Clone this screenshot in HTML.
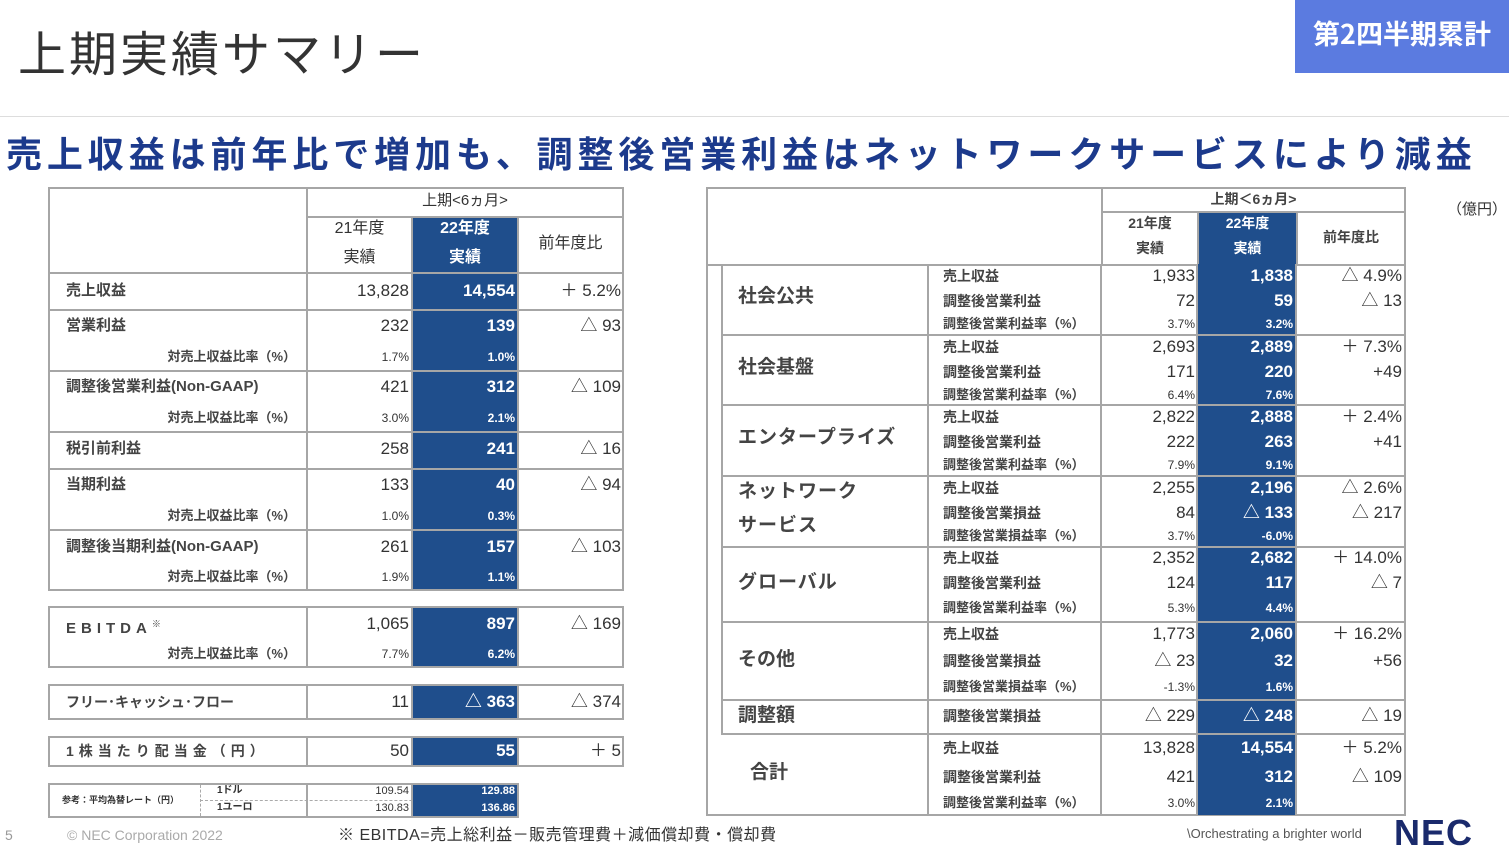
<!DOCTYPE html>
<html><head><meta charset="utf-8">
<style>
body{margin:0;width:1509px;height:855px;background:#fff;position:relative;overflow:hidden;font-family:"Liberation Sans","Noto Sans CJK JP",sans-serif;color:#333}
div{position:absolute;box-sizing:border-box}
.b{border:2px solid #a6a6a6}
.bl{background:#1f4e8c;border:2px solid #a6a6a6}
.t{white-space:nowrap;line-height:20px;height:20px}
.r{text-align:right}
.c{text-align:center}
.w{color:#fff;font-weight:bold}
.n{font-size:17px}
.s{font-size:12px}
.l{font-size:15px;font-weight:bold;color:#444}
.g{font-size:19px;font-weight:bold;color:#444}
.i{font-size:14px;font-weight:bold;color:#444}
</style></head><body>
<div class="t" style="left:18px;top:28px;height:56px;line-height:56px;font-size:48px;color:#333;letter-spacing:3px">上期実績サマリー</div>
<div style="left:1295px;top:0;width:214px;height:73px;background:#5b7be0;color:#fff;font-size:27px;font-weight:bold;line-height:66px;text-align:center;font-family:'Noto Sans CJK JP',sans-serif">第2四半期累計</div>
<div style="left:0;top:116px;width:1509px;height:1px;background:#ddd"></div>
<div class="t" style="left:6px;top:130px;height:44px;line-height:44px;font-size:36px;font-weight:bold;color:#1c3a8c;letter-spacing:4.9px;font-family:'Noto Sans CJK JP',sans-serif">売上収益は前年比で増加も、調整後営業利益はネットワークサービスにより減益</div>
<div class="t" style="left:1447px;top:200px;font-size:15px;color:#333">（億円）</div>

<!-- LEFT TABLE -->
<div class="b" style="left:48px;top:187px;width:260px;height:87px"></div>
<div class="b" style="left:306px;top:187px;width:318px;height:31px"></div>
<div class="b" style="left:306px;top:216px;width:107px;height:58px"></div>
<div class="bl" style="left:411px;top:216px;width:108px;height:58px"></div>
<div class="b" style="left:517px;top:216px;width:107px;height:58px"></div>
<div class="t c" style="left:306px;top:191px;width:318px;font-size:15px">上期&lt;6ヵ月&gt;</div>
<div class="t c" style="left:306px;top:219px;width:107px;font-size:16px">21年度</div>
<div class="t c" style="left:306px;top:248px;width:107px;font-size:16px">実績</div>
<div class="t c w" style="left:411px;top:219px;width:108px;font-size:16px">22年度</div>
<div class="t c w" style="left:411px;top:248px;width:108px;font-size:16px">実績</div>
<div class="t c" style="left:517px;top:234px;width:107px;font-size:16px">前年度比</div>

<!-- rows -->
<div class="b" style="left:48px;top:272px;width:260px;height:39px"></div><div class="b" style="left:306px;top:272px;width:107px;height:39px"></div><div class="bl" style="left:411px;top:272px;width:108px;height:39px"></div><div class="b" style="left:517px;top:272px;width:107px;height:39px"></div>
<div class="b" style="left:48px;top:309px;width:260px;height:63px"></div><div class="b" style="left:306px;top:309px;width:107px;height:63px"></div><div class="bl" style="left:411px;top:309px;width:108px;height:63px"></div><div class="b" style="left:517px;top:309px;width:107px;height:63px"></div>
<div class="b" style="left:48px;top:370px;width:260px;height:63px"></div><div class="b" style="left:306px;top:370px;width:107px;height:63px"></div><div class="bl" style="left:411px;top:370px;width:108px;height:63px"></div><div class="b" style="left:517px;top:370px;width:107px;height:63px"></div>
<div class="b" style="left:48px;top:431px;width:260px;height:39px"></div><div class="b" style="left:306px;top:431px;width:107px;height:39px"></div><div class="bl" style="left:411px;top:431px;width:108px;height:39px"></div><div class="b" style="left:517px;top:431px;width:107px;height:39px"></div>
<div class="b" style="left:48px;top:468px;width:260px;height:63px"></div><div class="b" style="left:306px;top:468px;width:107px;height:63px"></div><div class="bl" style="left:411px;top:468px;width:108px;height:63px"></div><div class="b" style="left:517px;top:468px;width:107px;height:63px"></div>
<div class="b" style="left:48px;top:529px;width:260px;height:62px"></div><div class="b" style="left:306px;top:529px;width:107px;height:62px"></div><div class="bl" style="left:411px;top:529px;width:108px;height:62px"></div><div class="b" style="left:517px;top:529px;width:107px;height:62px"></div>
<div class="b" style="left:48px;top:606px;width:260px;height:62px"></div><div class="b" style="left:306px;top:606px;width:107px;height:62px"></div><div class="bl" style="left:411px;top:606px;width:108px;height:62px"></div><div class="b" style="left:517px;top:606px;width:107px;height:62px"></div>
<div class="b" style="left:48px;top:684px;width:260px;height:36px"></div><div class="b" style="left:306px;top:684px;width:107px;height:36px"></div><div class="bl" style="left:411px;top:684px;width:108px;height:36px"></div><div class="b" style="left:517px;top:684px;width:107px;height:36px"></div>
<div class="b" style="left:48px;top:736px;width:260px;height:31px"></div><div class="b" style="left:306px;top:736px;width:107px;height:31px"></div><div class="bl" style="left:411px;top:736px;width:108px;height:31px"></div><div class="b" style="left:517px;top:736px;width:107px;height:31px"></div>
<!-- rate -->
<div class="b" style="left:48px;top:783px;width:260px;height:35px"></div><div style="left:200px;top:785px;width:0;height:31px;border-left:1px dashed #aaa"></div><div style="left:200px;top:800px;width:317px;height:0;border-top:1px dashed #aaa"></div>
<div class="b" style="left:306px;top:783px;width:107px;height:35px"></div><div class="bl" style="left:411px;top:783px;width:108px;height:35px"></div>
<div class="t" style="left:62px;top:790px;font-size:9px;font-weight:bold">参考：平均為替レート（円）</div>
<div class="t" style="left:217px;top:781px;font-size:10px;font-weight:bold">1ドル</div>
<div class="t" style="left:217px;top:798px;font-size:10px;font-weight:bold">1ユーロ</div>
<div class="t r" style="left:306px;top:781px;width:103px;font-size:11px">109.54</div>
<div class="t r" style="left:306px;top:798px;width:103px;font-size:11px">130.83</div>
<div class="t r w" style="left:411px;top:781px;width:104px;font-size:11px">129.88</div>
<div class="t r w" style="left:411px;top:798px;width:104px;font-size:11px">136.86</div>

<!-- left texts -->
<div class="t l" style="left:66px;top:281px">売上収益</div>
<div class="t l" style="left:66px;top:316px">営業利益</div>
<div class="t l" style="left:66px;top:377px">調整後営業利益(Non-GAAP)</div>
<div class="t l" style="left:66px;top:439px">税引前利益</div>
<div class="t l" style="left:66px;top:475px">当期利益</div>
<div class="t l" style="left:66px;top:537px">調整後当期利益(Non-GAAP)</div>
<div class="t l" style="left:66px;top:614px;letter-spacing:5px">EBITDA<sup style="font-size:9px">※</sup></div>
<div class="t l" style="left:66px;top:692px;font-size:14px">フリー･キャッシュ･フロー</div>
<div class="t l" style="left:66px;top:741px;font-size:14px;letter-spacing:5px">1株当たり配当金（円）</div>
<div class="t r" style="left:66px;top:347px;width:230px;font-size:13px;font-weight:bold;color:#444">対売上収益比率（%）</div>
<div class="t r" style="left:66px;top:408px;width:230px;font-size:13px;font-weight:bold;color:#444">対売上収益比率（%）</div>
<div class="t r" style="left:66px;top:506px;width:230px;font-size:13px;font-weight:bold;color:#444">対売上収益比率（%）</div>
<div class="t r" style="left:66px;top:567px;width:230px;font-size:13px;font-weight:bold;color:#444">対売上収益比率（%）</div>
<div class="t r" style="left:66px;top:644px;width:230px;font-size:13px;font-weight:bold;color:#444">対売上収益比率（%）</div>

<!-- c1 -->
<div class="t r n" style="left:306px;top:281px;width:103px">13,828</div>
<div class="t r n" style="left:306px;top:316px;width:103px">232</div>
<div class="t r s" style="left:306px;top:347px;width:103px">1.7%</div>
<div class="t r n" style="left:306px;top:377px;width:103px">421</div>
<div class="t r s" style="left:306px;top:408px;width:103px">3.0%</div>
<div class="t r n" style="left:306px;top:439px;width:103px">258</div>
<div class="t r n" style="left:306px;top:475px;width:103px">133</div>
<div class="t r s" style="left:306px;top:506px;width:103px">1.0%</div>
<div class="t r n" style="left:306px;top:537px;width:103px">261</div>
<div class="t r s" style="left:306px;top:567px;width:103px">1.9%</div>
<div class="t r n" style="left:306px;top:614px;width:103px">1,065</div>
<div class="t r s" style="left:306px;top:644px;width:103px">7.7%</div>
<div class="t r n" style="left:306px;top:692px;width:103px">11</div>
<div class="t r n" style="left:306px;top:741px;width:103px">50</div>
<!-- c2 -->
<div class="t r n w" style="left:411px;top:281px;width:104px">14,554</div>
<div class="t r n w" style="left:411px;top:316px;width:104px">139</div>
<div class="t r s w" style="left:411px;top:347px;width:104px">1.0%</div>
<div class="t r n w" style="left:411px;top:377px;width:104px">312</div>
<div class="t r s w" style="left:411px;top:408px;width:104px">2.1%</div>
<div class="t r n w" style="left:411px;top:439px;width:104px">241</div>
<div class="t r n w" style="left:411px;top:475px;width:104px">40</div>
<div class="t r s w" style="left:411px;top:506px;width:104px">0.3%</div>
<div class="t r n w" style="left:411px;top:537px;width:104px">157</div>
<div class="t r s w" style="left:411px;top:567px;width:104px">1.1%</div>
<div class="t r n w" style="left:411px;top:614px;width:104px">897</div>
<div class="t r s w" style="left:411px;top:644px;width:104px">6.2%</div>
<div class="t r n w" style="left:411px;top:692px;width:104px">△ 363</div>
<div class="t r n w" style="left:411px;top:741px;width:104px">55</div>
<!-- c3 -->
<div class="t r n" style="left:517px;top:281px;width:104px">＋ 5.2%</div>
<div class="t r n" style="left:517px;top:316px;width:104px">△ 93</div>
<div class="t r n" style="left:517px;top:377px;width:104px">△ 109</div>
<div class="t r n" style="left:517px;top:439px;width:104px">△ 16</div>
<div class="t r n" style="left:517px;top:475px;width:104px">△ 94</div>
<div class="t r n" style="left:517px;top:537px;width:104px">△ 103</div>
<div class="t r n" style="left:517px;top:614px;width:104px">△ 169</div>
<div class="t r n" style="left:517px;top:692px;width:104px">△ 374</div>
<div class="t r n" style="left:517px;top:741px;width:104px">＋ 5</div>

<!-- RIGHT TABLE -->
<div class="b" style="left:706px;top:187px;width:700px;height:629px"></div>
<div class="b" style="left:706px;top:187px;width:397px;height:79px"></div>
<div class="b" style="left:1101px;top:187px;width:305px;height:26px"></div>
<div class="b" style="left:1101px;top:211px;width:98px;height:55px"></div>
<div class="bl" style="left:1197px;top:211px;width:101px;height:55px"></div>
<div class="b" style="left:1296px;top:211px;width:110px;height:55px"></div>
<div class="t c" style="left:1101px;top:189px;width:305px;font-size:14px;font-weight:bold;color:#444">上期＜6ヵ月&gt;</div>
<div class="t c" style="left:1101px;top:213px;width:98px;font-size:14px;font-weight:bold;color:#444">21年度</div>
<div class="t c" style="left:1101px;top:238px;width:98px;font-size:14px;font-weight:bold;color:#444">実績</div>
<div class="t c w" style="left:1197px;top:213px;width:101px;font-size:14px">22年度</div>
<div class="t c w" style="left:1197px;top:238px;width:101px;font-size:14px">実績</div>
<div class="t c" style="left:1296px;top:227px;width:110px;font-size:14px;font-weight:bold;color:#444">前年度比</div>
<div style="left:1198px;top:264px;width:99px;height:551px;background:#1f4e8c"></div>
<div style="left:721px;top:264px;width:2px;height:470px;background:#a6a6a6"></div>
<div style="left:927px;top:264px;width:2px;height:551px;background:#a6a6a6"></div>
<div style="left:1100px;top:264px;width:2px;height:551px;background:#a6a6a6"></div>
<div style="left:1196px;top:264px;width:2px;height:551px;background:#a6a6a6"></div>
<div style="left:1295px;top:264px;width:2px;height:551px;background:#a6a6a6"></div>
<div style="left:721px;top:334px;width:685px;height:2px;background:#a6a6a6"></div>
<div style="left:721px;top:404px;width:685px;height:2px;background:#a6a6a6"></div>
<div style="left:721px;top:475px;width:685px;height:2px;background:#a6a6a6"></div>
<div style="left:721px;top:546px;width:685px;height:2px;background:#a6a6a6"></div>
<div style="left:721px;top:621px;width:685px;height:2px;background:#a6a6a6"></div>
<div style="left:721px;top:699px;width:685px;height:2px;background:#a6a6a6"></div>
<div style="left:721px;top:733px;width:685px;height:2px;background:#a6a6a6"></div>

<div class="t g" style="left:738px;top:287px">社会公共</div>
<div class="t g" style="left:738px;top:358px">社会基盤</div>
<div class="t g" style="left:738px;top:428px;letter-spacing:1px">エンタープライズ</div>
<div class="t g" style="left:738px;top:482px;letter-spacing:1px">ネットワーク</div>
<div class="t g" style="left:738px;top:516px;letter-spacing:1px">サービス</div>
<div class="t g" style="left:738px;top:573px;letter-spacing:1px">グローバル</div>
<div class="t g" style="left:738px;top:650px">その他</div>
<div class="t g" style="left:738px;top:706px">調整額</div>
<div class="t g" style="left:750px;top:763px">合計</div>

<div class="t i" style="left:943px;top:266px">売上収益</div><div class="t i" style="left:943px;top:291px">調整後営業利益</div><div class="t i" style="left:943px;top:314px;font-size:13px">調整後営業利益率（%）</div>
<div class="t i" style="left:943px;top:337px">売上収益</div><div class="t i" style="left:943px;top:362px">調整後営業利益</div><div class="t i" style="left:943px;top:385px;font-size:13px">調整後営業利益率（%）</div>
<div class="t i" style="left:943px;top:407px">売上収益</div><div class="t i" style="left:943px;top:432px">調整後営業利益</div><div class="t i" style="left:943px;top:455px;font-size:13px">調整後営業利益率（%）</div>
<div class="t i" style="left:943px;top:478px">売上収益</div><div class="t i" style="left:943px;top:503px">調整後営業損益</div><div class="t i" style="left:943px;top:526px;font-size:13px">調整後営業損益率（%）</div>
<div class="t i" style="left:943px;top:548px">売上収益</div><div class="t i" style="left:943px;top:573px">調整後営業利益</div><div class="t i" style="left:943px;top:598px;font-size:13px">調整後営業利益率（%）</div>
<div class="t i" style="left:943px;top:624px">売上収益</div><div class="t i" style="left:943px;top:651px">調整後営業損益</div><div class="t i" style="left:943px;top:677px;font-size:13px">調整後営業損益率（%）</div>
<div class="t i" style="left:943px;top:706px">調整後営業損益</div>
<div class="t i" style="left:943px;top:738px">売上収益</div><div class="t i" style="left:943px;top:767px">調整後営業利益</div><div class="t i" style="left:943px;top:793px;font-size:13px">調整後営業利益率（%）</div>

<div class="t r n" style="left:1101px;top:266px;width:94px">1,933</div><div class="t r n" style="left:1101px;top:291px;width:94px">72</div><div class="t r s" style="left:1101px;top:314px;width:94px">3.7%</div>
<div class="t r n" style="left:1101px;top:337px;width:94px">2,693</div><div class="t r n" style="left:1101px;top:362px;width:94px">171</div><div class="t r s" style="left:1101px;top:385px;width:94px">6.4%</div>
<div class="t r n" style="left:1101px;top:407px;width:94px">2,822</div><div class="t r n" style="left:1101px;top:432px;width:94px">222</div><div class="t r s" style="left:1101px;top:455px;width:94px">7.9%</div>
<div class="t r n" style="left:1101px;top:478px;width:94px">2,255</div><div class="t r n" style="left:1101px;top:503px;width:94px">84</div><div class="t r s" style="left:1101px;top:526px;width:94px">3.7%</div>
<div class="t r n" style="left:1101px;top:548px;width:94px">2,352</div><div class="t r n" style="left:1101px;top:573px;width:94px">124</div><div class="t r s" style="left:1101px;top:598px;width:94px">5.3%</div>
<div class="t r n" style="left:1101px;top:624px;width:94px">1,773</div><div class="t r n" style="left:1101px;top:651px;width:94px">△ 23</div><div class="t r s" style="left:1101px;top:677px;width:94px">-1.3%</div>
<div class="t r n" style="left:1101px;top:706px;width:94px">△ 229</div>
<div class="t r n" style="left:1101px;top:738px;width:94px">13,828</div><div class="t r n" style="left:1101px;top:767px;width:94px">421</div><div class="t r s" style="left:1101px;top:793px;width:94px">3.0%</div>

<div class="t r n w" style="left:1197px;top:266px;width:96px">1,838</div><div class="t r n w" style="left:1197px;top:291px;width:96px">59</div><div class="t r s w" style="left:1197px;top:314px;width:96px">3.2%</div>
<div class="t r n w" style="left:1197px;top:337px;width:96px">2,889</div><div class="t r n w" style="left:1197px;top:362px;width:96px">220</div><div class="t r s w" style="left:1197px;top:385px;width:96px">7.6%</div>
<div class="t r n w" style="left:1197px;top:407px;width:96px">2,888</div><div class="t r n w" style="left:1197px;top:432px;width:96px">263</div><div class="t r s w" style="left:1197px;top:455px;width:96px">9.1%</div>
<div class="t r n w" style="left:1197px;top:478px;width:96px">2,196</div><div class="t r n w" style="left:1197px;top:503px;width:96px">△ 133</div><div class="t r s w" style="left:1197px;top:526px;width:96px">-6.0%</div>
<div class="t r n w" style="left:1197px;top:548px;width:96px">2,682</div><div class="t r n w" style="left:1197px;top:573px;width:96px">117</div><div class="t r s w" style="left:1197px;top:598px;width:96px">4.4%</div>
<div class="t r n w" style="left:1197px;top:624px;width:96px">2,060</div><div class="t r n w" style="left:1197px;top:651px;width:96px">32</div><div class="t r s w" style="left:1197px;top:677px;width:96px">1.6%</div>
<div class="t r n w" style="left:1197px;top:706px;width:96px">△ 248</div>
<div class="t r n w" style="left:1197px;top:738px;width:96px">14,554</div><div class="t r n w" style="left:1197px;top:767px;width:96px">312</div><div class="t r s w" style="left:1197px;top:793px;width:96px">2.1%</div>

<div class="t r n" style="left:1296px;top:266px;width:106px">△ 4.9%</div><div class="t r n" style="left:1296px;top:291px;width:106px">△ 13</div>
<div class="t r n" style="left:1296px;top:337px;width:106px">＋ 7.3%</div><div class="t r n" style="left:1296px;top:362px;width:106px">+49</div>
<div class="t r n" style="left:1296px;top:407px;width:106px">＋ 2.4%</div><div class="t r n" style="left:1296px;top:432px;width:106px">+41</div>
<div class="t r n" style="left:1296px;top:478px;width:106px">△ 2.6%</div><div class="t r n" style="left:1296px;top:503px;width:106px">△ 217</div>
<div class="t r n" style="left:1296px;top:548px;width:106px">＋ 14.0%</div><div class="t r n" style="left:1296px;top:573px;width:106px">△ 7</div>
<div class="t r n" style="left:1296px;top:624px;width:106px">＋ 16.2%</div><div class="t r n" style="left:1296px;top:651px;width:106px">+56</div>
<div class="t r n" style="left:1296px;top:706px;width:106px">△ 19</div>
<div class="t r n" style="left:1296px;top:738px;width:106px">＋ 5.2%</div><div class="t r n" style="left:1296px;top:767px;width:106px">△ 109</div>

<div class="t" style="left:5px;top:825px;font-size:14px;color:#999">5</div>
<div class="t" style="left:67px;top:825px;font-size:14px;color:#aaa">© NEC Corporation 2022</div>
<div class="t" style="left:338px;top:826px;font-size:16px;color:#333;letter-spacing:0.5px">※ EBITDA=売上総利益－販売管理費＋減価償却費・償却費</div>
<div class="t" style="left:1187px;top:824px;font-size:13px;color:#555">\Orchestrating a brighter world</div>
<div class="t" style="left:1394px;top:814px;height:38px;line-height:38px;font-size:36px;font-weight:bold;color:#1a2a6c;letter-spacing:1px">NEC</div>
</body></html>
